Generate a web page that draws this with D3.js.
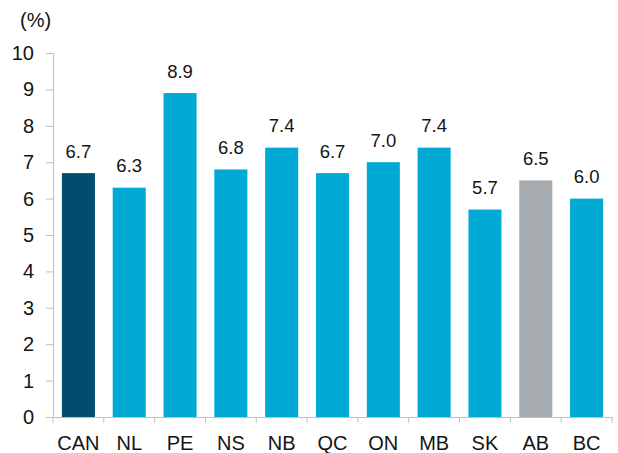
<!DOCTYPE html>
<html>
<head>
<meta charset="utf-8">
<script src="https://cdn.jsdelivr.net/npm/d3@7"></script>
<style>
  body { margin: 0; background: #fff; }
  text { font-family: "Liberation Sans", Arial, sans-serif; fill: #141414; }
  .axis path, .axis line { stroke: #bfbfbf; }
</style>
</head>
<body>
<div id="fig"></div>
<script>
// data
var provinces = ["CAN", "NL", "PE", "NS", "NB", "QC", "ON", "MB", "SK", "AB", "BC"];
var rates = [6.7, 6.3, 8.9, 6.8, 7.4, 6.7, 7.0, 7.4, 5.7, 6.5, 6.0];
var barColors = ["#004d6d", "#00aad4", "#00aad4", "#00aad4", "#00aad4", "#00aad4",
                 "#00aad4", "#00aad4", "#00aad4", "#a5abae", "#00aad4"];
var yTicks = [0, 1, 2, 3, 4, 5, 6, 7, 8, 9, 10];

var data = provinces.map(function(p, i) { return {prov: p, val: rates[i], color: barColors[i]}; });

var W = 618, H = 453;
var margin = {top: 53, right: 6, bottom: 36, left: 53},
    width = W - margin.left - margin.right,
    height = H - margin.top - margin.bottom;

var svg = d3.select("#fig").append("svg")
    .attr("width", W)
    .attr("height", H)
  .append("g")
    .attr("transform", "translate(" + margin.left + "," + margin.top + ")");

var x = d3.scaleBand()
    .domain(provinces)
    .range([0, width])
    .paddingInner(0.35)
    .paddingOuter(0.175);

var y = d3.scaleLinear()
    .domain([0, 10])
    .range([height, 0]);

// y axis
var yAxis = svg.append("g")
    .attr("class", "axis")
    .call(d3.axisLeft(y).tickValues(yTicks).tickSizeOuter(0).tickSize(7).tickPadding(12));
yAxis.selectAll("text").style("font-size", "20px");

// x axis with ticks between categories
var xAxis = svg.append("g")
    .attr("class", "axis")
    .attr("transform", "translate(0," + height + ")")
    .call(d3.axisBottom(x).tickSize(0).tickSizeOuter(0).tickPadding(14));
xAxis.selectAll("text").style("font-size", "20px").attr("dy", "0.93em");
xAxis.selectAll(".sep")
    .data(d3.range(provinces.length + 1))
    .enter().append("line")
    .attr("class", "sep")
    .attr("x1", function(i) { return i * x.step(); })
    .attr("x2", function(i) { return i * x.step(); })
    .attr("y1", 0)
    .attr("y2", 6);

// bars
svg.selectAll("rect.bar")
    .data(data)
    .enter().append("rect")
    .attr("class", "bar")
    .attr("x", function(d) { return x(d.prov); })
    .attr("y", function(d) { return y(d.val); })
    .attr("width", x.bandwidth())
    .attr("height", function(d) { return height - y(d.val); })
    .attr("fill", function(d) { return d.color; });

// value labels
svg.selectAll("text.val")
    .data(data)
    .enter().append("text")
    .attr("class", "val")
    .attr("x", function(d) { return x(d.prov) + x.bandwidth() / 2; })
    .attr("y", function(d) { return y(d.val) - 15.5; })
    .attr("text-anchor", "middle")
    .style("font-size", "18.5px")
    .text(function(d) { return d.val.toFixed(1); });

// unit label
svg.append("text")
    .attr("x", -33)
    .attr("y", -26)
    .style("font-size", "20px")
    .text("(%)");
</script>
</body>
</html>
